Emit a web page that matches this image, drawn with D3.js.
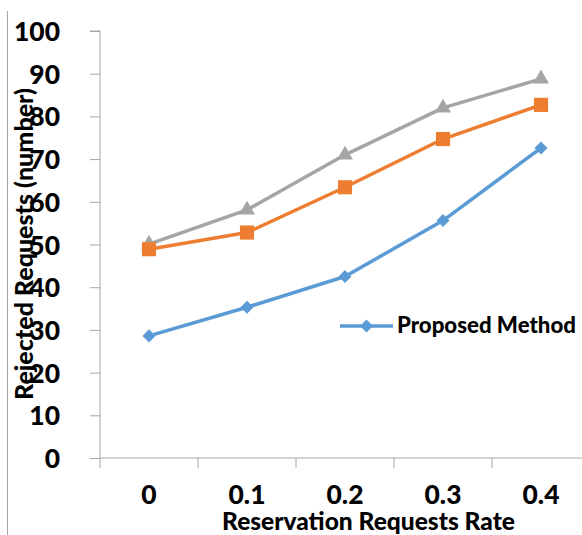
<!DOCTYPE html>
<html><head><meta charset="utf-8">
<script src="https://cdn.jsdelivr.net/npm/d3@7"></script>
<style>body{margin:0;background:#fff}svg{display:block}text{font-family:Lato,"Open Sans",sans-serif;font-weight:900;fill:#000}</style>
</head><body><svg id="c" width="582" height="535"></svg>
<script>
const categories = ["0","0.1","0.2","0.3","0.4"];
const proposed = [28.6, 35.3, 42.5, 55.6, 72.6];
const orangeSeries = [48.9, 52.8, 63.4, 74.7, 82.7];
const graySeries = [50.1, 58.1, 71.0, 82.0, 88.8];
const yTicks = [0,10,20,30,40,50,60,70,80,90,100];
const legendLabel = "Proposed Method";
const xTitle = "Reservation Requests Rate";
const yTitle = "Rejected Requests (number)";

(function(){
const svg = d3.select("#c");
const mL = 100, mR = 590, mT = 31, mB = 458;
const x = d3.scaleBand().domain(categories).range([mL, mR]);
const y = d3.scaleLinear().domain([0,100]).range([mB, mT]);

function fit(sel, target){
  const n = sel.node(); const fs = parseFloat(sel.style("font-size"));
  const w = n.getComputedTextLength();
  sel.style("font-size", (fs*target/w).toFixed(2)+"px");
  return fs*target/w;
}

svg.append("line").attr("x1",7.5).attr("x2",7.5).attr("y1",11).attr("y2",535).attr("stroke","#a6a6a6").attr("stroke-width",1);

const ya = svg.append("g").attr("transform",`translate(${mL},0)`).call(d3.axisLeft(y).tickValues(yTicks).tickSize(10).tickPadding(30));
ya.select(".domain").attr("stroke","#a6a6a6").attr("d",`M-10,${mT}H0V${mB}`);
ya.selectAll(".tick line").attr("stroke","#a6a6a6");
const yt = ya.selectAll(".tick text").style("font-size","24px").style("font-family","Lato,sans-serif").style("font-weight","900").attr("fill","#000").attr("dy","0.36em");
const tfs = fit(ya.selectAll(".tick text").filter(d=>d===100), 46);
yt.style("font-size", tfs+"px");

const xa = svg.append("g").attr("transform",`translate(0,${mB})`).call(d3.axisBottom(x).tickSize(0).tickPadding(0));
xa.select(".domain").attr("stroke","#a6a6a6").attr("d",`M${mL},0H${mR}`);
xa.selectAll(".tick text").style("font-size",tfs+"px").style("font-family","Lato,sans-serif").style("font-weight","900").attr("fill","#000").attr("dy",null).attr("y",46);
const bounds = categories.map(c=>x(c)).concat([mR]);
svg.append("g").selectAll("line").data(bounds).join("line")
  .attr("x1",d=>d).attr("x2",d=>d).attr("y1",mB).attr("y2",mB+10).attr("stroke","#a6a6a6");

const cx = c => x(c) + x.bandwidth()/2;
const line = d3.line().x((d,i)=>cx(categories[i])).y(d=>y(d));

function series(vals, color, sym, size, rot){
  svg.append("path").datum(vals).attr("d",line).attr("fill","none").attr("stroke",color).attr("stroke-width",3.5).attr("stroke-linejoin","round");
  svg.append("g").selectAll("path").data(vals).join("path")
    .attr("transform",(d,i)=>`translate(${cx(categories[i])},${y(d)}) rotate(${rot})`)
    .attr("d",d3.symbol().type(sym).size(size)).attr("fill",color);
}
series(graySeries, "#a5a5a5", d3.symbolTriangle, 110, 0);
series(orangeSeries, "#ed7d31", d3.symbolSquare, 200, 0);
series(proposed, "#5b9bd5", d3.symbolSquare, 85, 45);

const lg = svg.append("g").attr("transform","translate(340,326)");
lg.append("line").attr("x1",0).attr("x2",53).attr("stroke","#5b9bd5").attr("stroke-width",3.5);
lg.append("path").attr("transform","translate(26.5,0) rotate(45)").attr("d",d3.symbol().type(d3.symbolSquare).size(85)).attr("fill","#5b9bd5");
const lt = lg.append("text").attr("x",57).attr("y",7).style("font-size","20px").text(legendLabel);
fit(lt, 179);

const xt = svg.append("text").attr("x",368.5).attr("y",530).attr("text-anchor","middle").style("font-size","20px").text(xTitle);
fit(xt, 293);
const ytt = svg.append("text").attr("transform","translate(33,244) rotate(-90)").attr("text-anchor","middle").style("font-size","20px").text(yTitle);
fit(ytt, 312);
})();
</script></body></html>
